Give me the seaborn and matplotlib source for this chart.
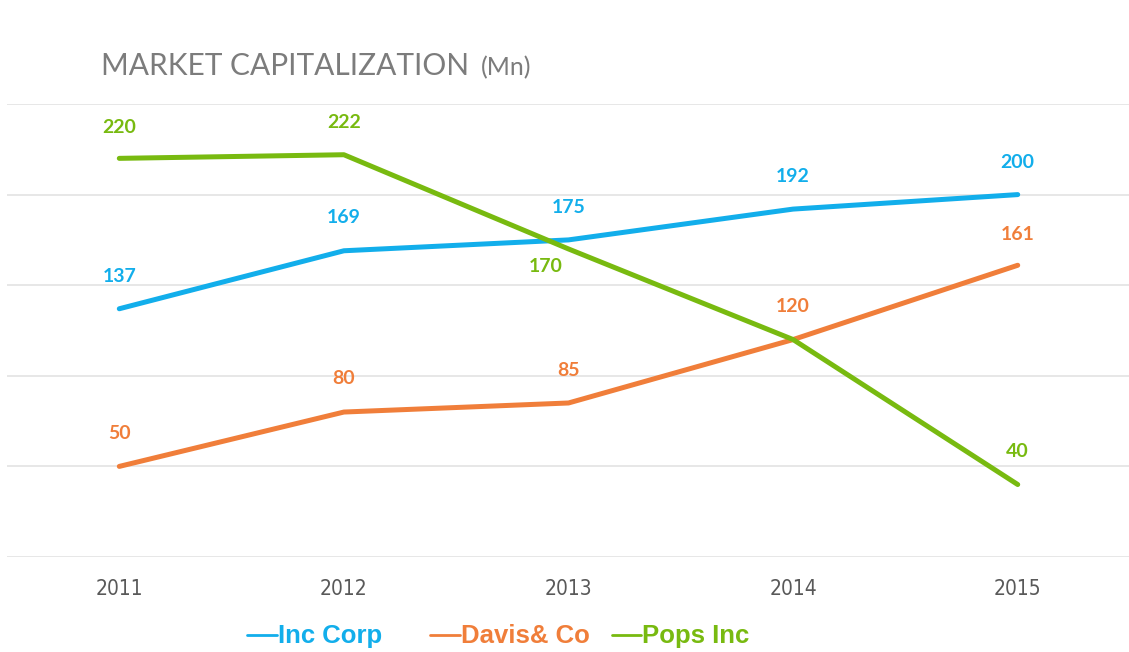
import matplotlib
matplotlib.use("Agg")
import matplotlib.pyplot as plt
from matplotlib.lines import Line2D
import pandas as pd
import seaborn as sns

years = ["2011", "2012", "2013", "2014", "2015"]
inc_corp = [137, 169, 175, 192, 200]
davis_co = [50, 80, 85, 120, 161]
pops_inc = [220, 222, 170, 120, 40]

series_names = ["Inc Corp", "Davis& Co", "Pops Inc"]
series_values = [inc_corp, davis_co, pops_inc]
colors = ["#12AEEB", "#F07E3A", "#78BA10"]

rows = []
for name, vals in zip(series_names, series_values):
    for i, v in enumerate(vals):
        rows.append({"idx": i, "year": years[i], "company": name, "value": v})
df = pd.DataFrame(rows)

sns.set_theme(style="white")
plt.rcParams["font.family"] = ["Liberation Sans", "DejaVu Sans"]

W, H = 1129, 652
fig = plt.figure(figsize=(W / 100, H / 100), dpi=100)
ax = fig.add_axes([0.0062, 0.1457, 0.9947, 0.6948])

sns.lineplot(data=df, x="idx", y="value", hue="company", hue_order=series_names,
             palette=colors, linewidth=3.6, ax=ax, legend=False, sort=False)

ax.set_xlim(-0.5, 4.5)
ax.set_ylim(0, 250)
ax.set_yticks([0, 50, 100, 150, 200, 250])
ax.set_yticklabels([])
ax.tick_params(axis="y", length=0)
ax.grid(axis="y", color="#e3e3e3", linewidth=1.2)
ax.set_axisbelow(True)
for s in ax.spines.values():
    s.set_visible(False)
ax.set_xlabel("")
ax.set_ylabel("")
ax.set_xticks(range(len(years)))
ax.set_xticklabels(years, fontsize=15, color="#595959",
                   family=["DejaVu Sans"], fontstretch="condensed")
ax.tick_params(axis="x", length=0, pad=16)

# data labels: offsets in pixels (dx, dy) per series point
offsets = {
    "Inc Corp": [(0, 32), (0, 33), (0, 32), (0, 33), (0, 32)],
    "Davis& Co": [(0, 33), (0, 34), (0, 32), (0, 33), (0, 31)],
    "Pops Inc": [(0, 31), (0, 32), (-23, -18), (0, 33), (0, 33)],
}
for name, vals, col in zip(series_names, series_values, colors):
    for i, v in enumerate(vals):
        if name == "Pops Inc" and i == 3:
            continue
        dx, dy = offsets[name][i]
        ax.annotate(str(v), (i, v), xytext=(dx * 0.72, dy * 0.72),
                    textcoords="offset points", ha="center", va="center",
                    fontsize=14, fontweight="bold", color=col,
                    family=["Lato", "DejaVu Sans"])

# title
fig.text(101 / W, 1 - 66 / H, "MARKET CAPITALIZATION", fontsize=21.5,
         color="#7c7c7c", family=["Lato", "DejaVu Sans"], fontweight="normal",
         ha="left", va="center")
fig.text(481 / W, 1 - 68 / H, "(Mn)", fontsize=18,
         color="#7c7c7c", family=["Lato", "DejaVu Sans"], fontweight="normal",
         ha="left", va="center")

# legend: short coloured rule followed by the series name
legend_items = [(247, 277), (430, 460), (612, 641)]
for (x0, x1), name, col in zip(legend_items, series_names, colors):
    fig.add_artist(Line2D([x0 / W, x1 / W], [1 - 635 / H, 1 - 635 / H],
                          color=col, linewidth=2, transform=fig.transFigure))
    fig.text((x1 + 1) / W, 1 - 636 / H, name, fontsize=18.5, fontweight="bold",
             color=col, ha="left", va="center")

fig.savefig("out.png", dpi=100)
